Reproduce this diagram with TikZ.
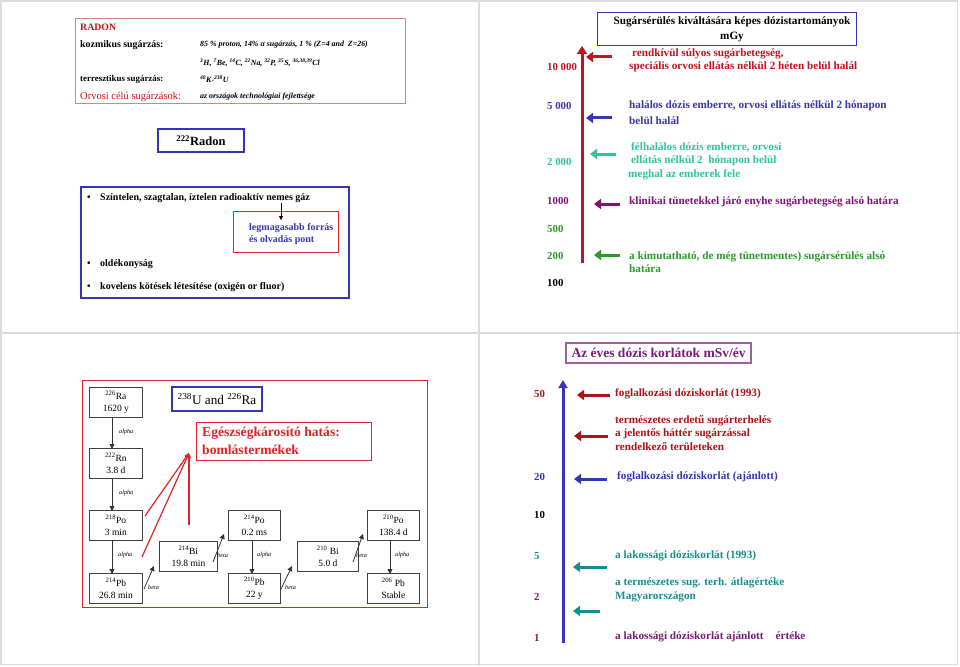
\documentclass[tikz,border=0pt]{standalone}
\usepackage{fontspec}
\setmainfont{Liberation Serif}
\usetikzlibrary{arrows.meta}
\definecolor{radred}{HTML}{C8101A}
\definecolor{boxbrown}{HTML}{D08A78}
\definecolor{bblue}{HTML}{3434B4}
\definecolor{dred}{HTML}{C0141E}
\definecolor{dblue}{HTML}{3838A8}
\definecolor{tealA}{HTML}{2EC49E}
\definecolor{purp}{HTML}{80107A}
\definecolor{grn}{HTML}{2A9A2A}
\definecolor{brred}{HTML}{E02424}
\definecolor{bred}{HTML}{B01018}
\definecolor{bblue2}{HTML}{3535B8}
\definecolor{tealB}{HTML}{178E8E}
\definecolor{purp2}{HTML}{7A1A7A}
\definecolor{sep}{HTML}{DCDCDC}
\begin{document}
\begin{tikzpicture}[x=1pt,y=-1pt,
  txt/.style={anchor=west, inner sep=0pt},
  bfs/.style={font=\bfseries\fontsize{11.2}{13}\selectfont},
  bfm/.style={font=\bfseries\fontsize{10}{12}\selectfont},
  bis/.style={font=\bfseries\itshape\fontsize{7.9}{9}\selectfont},
  decay/.style={draw=black!75, line width=0.8pt, fill=white, minimum width=53pt, minimum height=30pt, inner sep=1pt, align=center, font=\fontsize{9.5}{12.5}\selectfont},
  dosearrow/.style={line width=3pt, -{Triangle[length=7pt,width=10pt]}},
  decayarrow/.style={line width=0.8pt, black!80, -{Triangle[length=5pt,width=5pt]}},
  decaylbl/.style={anchor=west, inner sep=0pt, font=\itshape\fontsize{6.2}{7}\selectfont},
  doselbl/.style={anchor=west, inner sep=0pt, font=\bfseries\fontsize{10.8}{12}\selectfont}
]
\useasboundingbox (0,0) rectangle (960,666);
% separators and frame
\draw[sep, line width=1.2pt] (1,1) rectangle (957.5,664.5);
\draw[sep, line width=1.2pt] (479,0) -- (479,666);
\draw[sep, line width=1.2pt] (0,333) -- (960,333);

% ================= top left =================
\node[draw=boxbrown, line width=0.8pt, minimum width=330pt, minimum height=85pt, anchor=north west, inner sep=0pt] (radonbox) at (75,18) {};
\node[txt, text=radred, font=\bfseries\fontsize{9.8}{11}\selectfont] (radon) at (80,27) {RADON};
\node[txt, font=\bfseries\fontsize{9.9}{11}\selectfont] (kozm) at (80,45) {kozmikus sugárzás:};
\node[txt, bis] (kozmv) at (200,45) {85 \% proton, 14\% α sugárzás, 1 \% (Z=4 and \ Z=26)};
\node[txt, bis] (isot) at (200,63) {\textsuperscript{3}H, \textsuperscript{7}Be, \textsuperscript{14}C, \textsuperscript{22}Na, \textsuperscript{32}P, \textsuperscript{35}S, \textsuperscript{36,38,39}Cl};
\node[txt, font=\bfseries\fontsize{8.9}{10}\selectfont] (terr) at (80,79) {terresztikus sugárzás:};
\node[txt, bis] (terrv) at (200,79) {\textsuperscript{40}K-\textsuperscript{238}U};
\node[txt, text=radred, font=\fontsize{10.5}{12}\selectfont] (orv) at (80,97) {Orvosi célú sugárzások:};
\node[txt, bis] (orvv) at (200,97) {az országok technológiai fejlettsége};

\node[draw=bblue, line width=1.5pt, minimum width=86pt, minimum height=23pt, inner sep=0pt, font=\bfseries\fontsize{12.5}{14}\selectfont] (rn222) at (201,140.5) {\textsuperscript{222}Radon};

\node[draw=bblue, line width=2pt, minimum width=268pt, minimum height=111pt, anchor=north west, inner sep=0pt] (propbox) at (80,186) {};
\node[txt, bfm] (b1) at (87,198) {•};
\node[txt, bfm] (p1) at (100,198) {Színtelen, szagtalan, íztelen radioaktív nemes gáz};
\node[draw=brred, line width=1.2pt, minimum width=105pt, minimum height=41pt, anchor=north west, inner sep=0pt] (redbox) at (233,211) {};
\node[txt, text=bblue, bfm] (leg1) at (249,228) {legmagasabb forrás};
\node[txt, text=bblue, bfm] (leg2) at (249,240) {és olvadás pont};
\coordinate (legA) at (281,203);
\coordinate (legB) at (281,220);
\draw[line width=0.8pt, -{Triangle[length=4pt,width=4pt]}] (legA) -- (legB);
\node[txt, bfm] (b2) at (87,264) {•};
\node[txt, bfm] (p2) at (100,264) {oldékonyság};
\node[txt, bfm] (b3) at (87,287) {•};
\node[txt, bfm] (p3) at (100,287) {kovelens kötések létesítése (oxigén or fluor)};

% ================= top right =================
\node[draw=bblue, line width=1.2pt, minimum width=259pt, minimum height=33pt, anchor=north west, inner sep=0pt] (titbox) at (597,12) {};
\node[inner sep=0pt, font=\bfseries\fontsize{11.2}{15}\selectfont, align=center] (tit) at (732,29.5) {Sugársérülés kiváltására képes dózistartományok\\mGy};
\coordinate (axB) at (582,263);
\coordinate (axT) at (582,46);
\draw[dred, line width=3pt, -{Triangle[length=8pt,width=10pt]}] (axB) -- (axT);

\node[doselbl, text=dred] (d10000) at (547,67) {10 000};
\node[doselbl, text=dblue] (d5000) at (547,106) {5 000};
\node[doselbl, text=tealA] (d2000) at (547,162) {2 000};
\node[doselbl, text=purp] (d1000) at (547,201) {1000};
\node[doselbl, text=grn] (d500) at (547,229) {500};
\node[doselbl, text=grn] (d200) at (547,256) {200};
\node[doselbl] (d100) at (547,283) {100};

\coordinate (ra1) at (612,57);  \coordinate (rb1) at (586,57);
\coordinate (ra2) at (612,118); \coordinate (rb2) at (586,118);
\coordinate (ra3) at (616,154); \coordinate (rb3) at (590,154);
\coordinate (ra4) at (620,204); \coordinate (rb4) at (594,204);
\coordinate (ra5) at (620,255); \coordinate (rb5) at (594,255);
\draw[dosearrow, dred] (ra1) -- (rb1);
\draw[dosearrow, dblue] (ra2) -- (rb2);
\draw[dosearrow, tealA] (ra3) -- (rb3);
\draw[dosearrow, purp] (ra4) -- (rb4);
\draw[dosearrow, grn] (ra5) -- (rb5);

\node[txt, bfs, text=dred] (t1a) at (632,54) {rendkívül súlyos sugárbetegség,};
\node[txt, bfs, text=dred] (t1b) at (629,67) {speciális orvosi ellátás nélkül 2 héten belül halál};
\node[txt, bfs, text=dblue] (t2a) at (629,106) {halálos dózis emberre, orvosi ellátás nélkül 2 hónapon};
\node[txt, bfs, text=dblue] (t2b) at (629,121) {belül halál};
\node[txt, bfs, text=tealA] (t3a) at (631,147) {félhalálos dózis emberre, orvosi};
\node[txt, bfs, text=tealA] (t3b) at (631,161) {ellátás nélkül 2 \ hónapon belül};
\node[txt, bfs, text=tealA] (t3c) at (628,175) {meghal az emberek fele};
\node[txt, bfs, text=purp] (t4) at (629,202) {klinikai tünetekkel járó enyhe sugárbetegség alsó határa};
\node[txt, bfs, text=grn] (t5a) at (629,257) {a kimutatható, de még tünetmentes) sugársérülés alsó};
\node[txt, bfs, text=grn] (t5b) at (629,269) {határa};

% ================= bottom left =================
\node[draw=brred, line width=1.3pt, minimum width=345pt, minimum height=227pt, anchor=north west, inner sep=0pt] (chainbox) at (82,380) {};

\node[decay, anchor=north west] (ra226) at (89,387) {\textsuperscript{226}Ra\\1620 y};
\node[decay, anchor=north west] (rn222b) at (89,448) {\textsuperscript{222}Rn\\3.8 d};
\node[decay, anchor=north west] (po218) at (89,510) {\textsuperscript{218}Po\\3 min};
\node[decay, anchor=north west] (pb214) at (89,573) {\textsuperscript{214}Pb\\26.8 min};
\node[decay, anchor=north west, minimum width=58pt] (bi214) at (159,541) {\textsuperscript{214}Bi\\19.8 min};
\node[decay, anchor=north west, minimum width=52pt] (po214) at (228,510) {\textsuperscript{214}Po\\0.2 ms};
\node[decay, anchor=north west, minimum width=52pt] (pb210) at (228,573) {\textsuperscript{210}Pb\\22 y};
\node[decay, anchor=north west, minimum width=61pt] (bi210) at (297,541) {\textsuperscript{210} Bi\\5.0 d};
\node[decay, anchor=north west, minimum width=52pt] (po210) at (367,510) {\textsuperscript{210}Po\\138.4 d};
\node[decay, anchor=north west, minimum width=52pt] (pb206) at (367,573) {\textsuperscript{206} Pb\\Stable};

\draw[decayarrow] (ra226.south -| 112,0) -- ([yshift=-1pt]rn222b.north -| 112,0);
\draw[decayarrow] (rn222b.south -| 112,0) -- ([yshift=-1pt]po218.north -| 112,0);
\draw[decayarrow] (po218.south -| 112,0) -- ([yshift=-1pt]pb214.north -| 112,0);
\draw[decayarrow] (po214.south -| 252,0) -- ([yshift=-1pt]pb210.north -| 252,0);
\draw[decayarrow] (po210.south -| 390,0) -- ([yshift=-1pt]pb206.north -| 390,0);
\node[decaylbl] (al1) at (119,432) {alpha};
\node[decaylbl] (al2) at (119,493) {alpha};
\node[decaylbl] (al3) at (118,555) {alpha};
\node[decaylbl] (al4) at (257,555) {alpha};
\node[decaylbl] (al5) at (395,555) {alpha};

\coordinate (be1a) at (144,589); \coordinate (be1b) at (154,566);
\coordinate (be2a) at (213,562); \coordinate (be2b) at (224,534);
\coordinate (be3a) at (281,589); \coordinate (be3b) at (292,566);
\coordinate (be4a) at (353,562); \coordinate (be4b) at (363,534);
\draw[decayarrow] (be1a) -- (be1b);
\draw[decayarrow] (be2a) -- (be2b);
\draw[decayarrow] (be3a) -- (be3b);
\draw[decayarrow] (be4a) -- (be4b);
\node[decaylbl] (bl1) at (148,587) {beta};
\node[decaylbl] (bl2) at (217,555) {beta};
\node[decaylbl] (bl3) at (285,587) {beta};
\node[decaylbl] (bl4) at (356,555) {beta};

\node[draw=bblue, line width=1.3pt, minimum width=90pt, minimum height=24pt, inner sep=0pt, font=\fontsize{13.2}{15}\selectfont] (uRa) at (217,399) {\textsuperscript{238}U and \textsuperscript{226}Ra};
\node[draw=brred, line width=1.3pt, minimum width=175pt, minimum height=38pt, anchor=north west, inner sep=0pt] (egbox) at (196,422) {};
\node[txt, text=brred, font=\bfseries\fontsize{13.6}{15}\selectfont] (eg1) at (202,433) {Egészségkárosító hatás:};
\node[txt, text=brred, font=\bfseries\fontsize{13.6}{15}\selectfont] (eg2) at (202,450) {bomlástermékek};
\coordinate (hub) at (189,453);
\coordinate (hl1) at (145,516);
\coordinate (hl2) at (142,557);
\coordinate (hl3) at (189,525);
\draw[brred, line width=1.2pt, -{Triangle[length=5pt,width=4pt]}] (hl1) -- (hub);
\draw[brred, line width=1.2pt, -{Triangle[length=5pt,width=4pt]}] (hl2) -- (hub);
\draw[brred, line width=1.2pt, -{Triangle[length=5pt,width=4pt]}] (hl3) -- (hub);

% ================= bottom right =================
\node[draw=purp2!70, line width=1.3pt, minimum width=185pt, minimum height=20pt, inner sep=0pt, text=purp2, font=\bfseries\fontsize{13.5}{15}\selectfont] (annbox) at (658.5,353) {Az éves dózis korlátok mSv/év};
\coordinate (ax2B) at (563,643);
\coordinate (ax2T) at (563,380);
\draw[bblue2, line width=3pt, -{Triangle[length=8pt,width=9pt]}] (ax2B) -- (ax2T);

\node[doselbl, text=bred] (v50) at (534,394) {50};
\node[doselbl, text=bblue2] (v20) at (534,477) {20};
\node[doselbl] (v10) at (534,515) {10};
\node[doselbl, text=tealB] (v5) at (534,556) {5};
\node[doselbl, text=purp2] (v2) at (534,597) {2};
\node[doselbl, text=purp2] (v1) at (534,638) {1};

\coordinate (sa1) at (610,395); \coordinate (sb1) at (577,395);
\coordinate (sa2) at (608,436); \coordinate (sb2) at (574,436);
\coordinate (sa3) at (607,479); \coordinate (sb3) at (574,479);
\coordinate (sa4) at (607,567); \coordinate (sb4) at (573,567);
\coordinate (sa5) at (600,611); \coordinate (sb5) at (573,611);
\draw[dosearrow, bred] (sa1) -- (sb1);
\draw[dosearrow, bred] (sa2) -- (sb2);
\draw[dosearrow, bblue2] (sa3) -- (sb3);
\draw[dosearrow, tealB] (sa4) -- (sb4);
\draw[dosearrow, tealB] (sa5) -- (sb5);

\node[txt, bfs, text=bred] (s1) at (615,394) {foglalkozási dóziskorlát (1993)};
\node[txt, bfs, text=bred] (s2a) at (615,421) {természetes erdetű sugárterhelés};
\node[txt, bfs, text=bred] (s2b) at (615,434) {a jelentős háttér sugárzással};
\node[txt, bfs, text=bred] (s2c) at (615,447) {rendelkező területeken};
\node[txt, bfs, text=bblue2] (s3) at (617,477) {foglalkozási dóziskorlát (ajánlott)};
\node[txt, bfs, text=tealB] (s4) at (615,556) {a lakossági dóziskorlát (1993)};
\node[txt, bfs, text=tealB] (s5a) at (615,583) {a természetes sug. terh. átlagértéke};
\node[txt, bfs, text=tealB] (s5b) at (615,597) {Magyarországon};
\node[txt, bfs, text=purp2] (s6) at (615,637) {a lakossági dóziskorlát ajánlott\hspace{12pt}értéke};
\end{tikzpicture}
\end{document}
